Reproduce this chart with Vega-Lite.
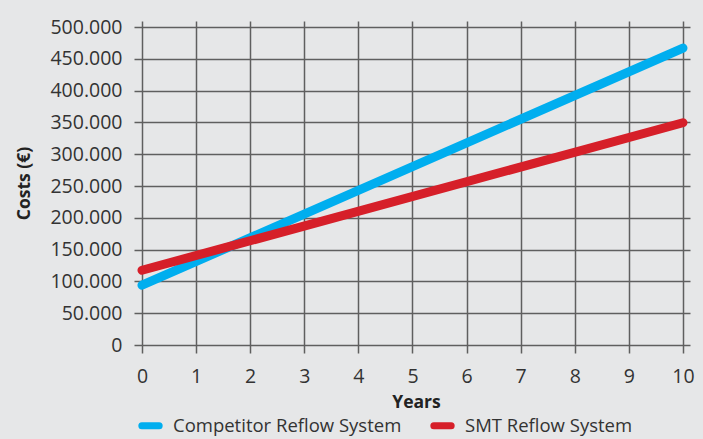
{
  "$schema": "https://vega.github.io/schema/vega-lite/v6.json",
  "width": 548,
  "height": 324,
  "autosize": {"type": "none"},
  "padding": {"left": 142, "top": 21, "right": 13, "bottom": 94},
  "background": "#e6e7e8",
  "config": {
    "view": {"stroke": null},
    "font": "Open Sans",
    "axis": {
      "domain": false,
      "labelFlush": false,
      "gridColor": "#5f5f5f",
      "gridWidth": 1.5,
      "gridOpacity": 1,
      "tickColor": "#5f5f5f",
      "tickWidth": 1.5,
      "tickSize": 8,
      "labelColor": "#333333",
      "labelFont": "Open Sans",
      "labelFontSize": 19.5,
      "titleFont": "Open Sans",
      "titleFontWeight": "bold",
      "titleFontSize": 17.5,
      "titleColor": "#222222"
    }
  },
  "data": {
    "values": [
      {"year": 0, "cost": 94000, "system": "Competitor Reflow System"},
      {"year": 10, "cost": 467000, "system": "Competitor Reflow System"},
      {"year": 0, "cost": 117500, "system": "SMT Reflow System"},
      {"year": 10, "cost": 349500, "system": "SMT Reflow System"}
    ]
  },
  "mark": {"type": "line", "strokeWidth": 9, "strokeCap": "round", "clip": false},
  "encoding": {
    "x": {
      "field": "year",
      "type": "quantitative",
      "title": "Years",
      "scale": {"domain": [0, 10.13], "nice": false, "zero": false},
      "axis": {
        "values": [0, 1, 2, 3, 4, 5, 6, 7, 8, 9, 10],
        "labelPadding": 14,
        "titlePadding": 8
      }
    },
    "y": {
      "field": "cost",
      "type": "quantitative",
      "title": "Costs (€)",
      "scale": {"domain": [0, 509500], "nice": false},
      "axis": {
        "values": [0, 50000, 100000, 150000, 200000, 250000, 300000, 350000, 400000, 450000, 500000],
        "labelExpr": "replace(format(datum.value, ','), ',', '.')",
        "labelPadding": 12,
        "titlePadding": 16
      }
    },
    "color": {
      "field": "system",
      "type": "nominal",
      "scale": {"domain": ["Competitor Reflow System", "SMT Reflow System"], "range": ["#00aeef", "#d61f29"]},
      "legend": {
        "title": null,
        "orient": "none",
        "direction": "horizontal",
        "legendX": -4,
        "legendY": 392,
        "symbolType": "stroke",
        "symbolStrokeWidth": 7,
        "symbolSize": 300,
        "labelFont": "Open Sans",
        "labelFontSize": 18.5,
        "labelColor": "#333333",
        "labelOffset": 10,
        "labelLimit": 400,
        "columnPadding": 17,
        "encode": {"symbols": {"update": {"strokeCap": {"value": "round"}}}}
      }
    }
  }
}
